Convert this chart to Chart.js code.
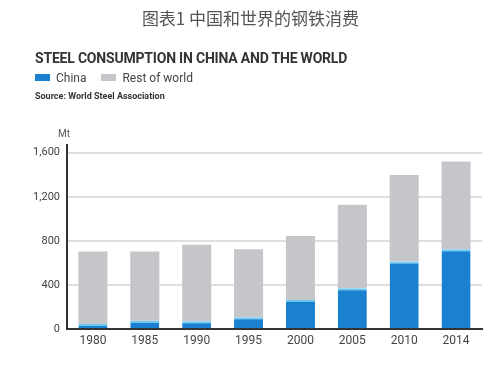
<!DOCTYPE html>
<html>
<head>
<meta charset="utf-8">
<script src="https://cdn.jsdelivr.net/npm/chart.js@4"></script>
<style>
  body { margin: 0; background: #fff; }
  #wrap { position: relative; width: 501px; height: 367px; overflow: hidden; }
  #myChart { position: absolute; left: 0; top: 0; }
  .txt { position: absolute; white-space: nowrap; }
  #cnTitle { left: 0; width: 501px; top: 5px; text-align: center; font: 17px "Noto Sans CJK SC", sans-serif; color: #555; }
  #enTitle { left: 35px; top: 50px; font: bold 14px Roboto, sans-serif; color: #333; letter-spacing: -0.2px; }
  #legend { left: 35px; top: 71px; font: 12px Roboto, sans-serif; color: #444; }
  #legend span.box { display: inline-block; width: 15px; height: 7px; margin-right: 6px; vertical-align: 1px; }
  #source { left: 35px; top: 91px; font: bold 9px Roboto, sans-serif; color: #333; }
  #unit { left: 58px; top: 128px; font: 10px Roboto, sans-serif; color: #555; }
</style>
</head>
<body>
<div id="wrap">
  <canvas id="myChart" width="501" height="367"></canvas>
  <div class="txt" id="cnTitle">图表1 中国和世界的钢铁消费</div>
  <div class="txt" id="enTitle">STEEL CONSUMPTION IN CHINA AND THE WORLD</div>
  <div class="txt" id="legend">
    <span class="box" style="background:#1a80d0"></span>China
    <span class="box" style="background:#c4c6c9; margin-left:12px"></span>Rest of world
  </div>
  <div class="txt" id="source">Source: World Steel Association</div>
  <div class="txt" id="unit">Mt</div>
</div>
<script>
// datos (Mt)
var years = ['1980', '1985', '1990', '1995', '2000', '2005', '2010', '2014'];
var china = [45, 75, 70, 106, 264, 370, 612, 724];
var restOfWorld = [658, 628, 694, 618, 581, 757, 785, 797];
var yTicks = [0, 400, 800, 1200, 1600];

var ctx = document.getElementById('myChart').getContext('2d');
var myChart = new Chart(ctx, {
  type: 'bar',
  data: {
    labels: years,
    datasets: [{
      label: 'China',
      data: china,
      backgroundColor: '#1a80d0',
      borderColor: '#6ccaf2',
      borderWidth: { top: 2, left: 0, right: 0, bottom: 0 },
      borderSkipped: false,
      barPercentage: 0.56,
      categoryPercentage: 1
    }, {
      label: 'Rest of world',
      data: restOfWorld,
      backgroundColor: '#c4c6c9',
      borderWidth: 0,
      barPercentage: 0.56,
      categoryPercentage: 1
    }]
  },
  options: {
    responsive: false,
    animation: false,
    layout: { padding: { left: 0, right: 19, top: 145, bottom: 8 } },
    plugins: {
      legend: { display: false },
      tooltip: { enabled: false }
    },
    scales: {
      x: {
        stacked: true,
        grid: { display: false, drawTicks: false },
        border: { color: '#333', width: 2 },
        ticks: { color: '#444', font: { family: 'Roboto', size: 12 }, padding: 5 },
        afterFit: function (scale) { scale.height = 30; }
      },
      y: {
        stacked: true,
        min: 0,
        max: 1670,
        afterBuildTicks: function (scale) {
          scale.ticks = yTicks.map(function (v) { return { value: v }; });
        },
        grid: { color: '#dedede', lineWidth: 2, drawTicks: false },
        border: { color: '#333', width: 2 },
        ticks: {
          color: '#444',
          font: { family: 'Roboto', size: 11 },
          padding: 7,
          callback: function (v) { return v.toLocaleString('en-US'); }
        },
        afterFit: function (scale) { scale.width = 67; }
      }
    }
  }
});
</script>
</body>
</html>
